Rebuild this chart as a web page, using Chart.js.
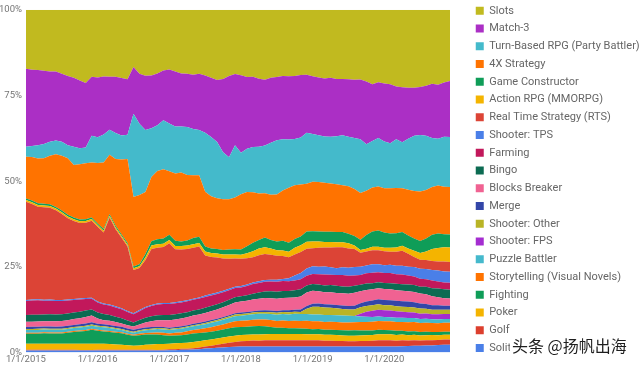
<!DOCTYPE html>
<html>
<head>
<meta charset="utf-8">
<script src="https://cdn.jsdelivr.net/npm/chart.js@4.4.1/dist/chart.umd.min.js"></script>
<style>
  body { margin: 0; background: #fff; }
  #wrap { position: relative; width: 640px; height: 366px; }
  #mark { position: absolute; left: 510px; top: 336px; font: 16px "Noto Sans CJK SC", sans-serif; color: #1e1e1e;
          background: #fff; padding: 0 2px; line-height: 19px; text-shadow: 0 0 2px #fff; }
</style>
</head>
<body>
<div id="wrap">
  <canvas id="genreChart"></canvas>
  <div id="mark">头条 @扬帆出海</div>
</div>
<script>
// monthly share (%) per genre, Jan 2015 .. Dec 2020
var years = [2015, 2016, 2017, 2018, 2019, 2020];
var yTicks = [0, 25, 50, 75, 100];

var slots = [17.3,17.5,17.5,17.8,18.1,18.1,18.7,19.3,19.9,20.8,21.6,19.9,
  19.9,19.6,19.6,19.6,19.9,20.2,16.7,18.7,19.3,19.3,18.7,17.8,
  17.5,18.1,18.7,18.7,19.0,18.7,19.3,19.9,20.5,20.2,19.3,18.7,
  19.0,19.6,19.6,20.2,20.5,19.9,19.6,19.3,19.3,19.3,19.0,19.0,
  19.6,19.9,20.2,19.9,20.2,20.2,20.2,20.5,20.5,21.1,21.9,21.3,
  21.6,21.9,22.5,22.8,22.8,22.8,22.5,22.2,21.6,21.9,21.3,20.8];
var match3 = [22.8,22.2,21.9,21.3,20.5,20.2,19.9,20.2,20.2,19.9,19.0,17.5,
  17.5,17.0,15.5,16.4,16.7,16.1,13.7,14.6,15.8,15.5,15.2,14.6,
  15.8,16.1,15.5,15.5,15.8,16.4,16.7,17.3,18.1,21.3,23.7,20.8,
  22.5,20.8,20.5,19.9,19.3,19.0,18.4,18.4,18.4,18.4,18.1,17.0,
  17.0,17.0,17.0,17.3,16.7,16.4,16.7,17.0,17.5,18.4,16.7,16.4,
  17.0,17.3,15.5,16.1,14.9,14.0,14.0,14.6,15.8,15.8,15.8,16.4];
var turnBased = [2.9,3.2,3.8,4.1,4.1,4.1,4.1,3.8,5.3,4.7,4.7,7.9,
  7.6,8.2,7.3,7.6,7.0,7.0,24.3,20.8,18.1,14.3,13.5,14.3,
  14.0,13.7,13.5,14.0,13.5,13.2,17.3,17.3,16.4,13.7,12.3,15.2,
  12.0,12.6,13.2,13.7,14.0,15.2,15.8,14.9,14.0,13.5,13.7,14.9,
  14.0,13.7,13.5,13.7,14.0,14.6,14.3,14.9,15.8,13.7,13.7,14.3,
  13.7,13.2,14.3,13.5,14.9,16.1,16.4,15.8,14.3,13.7,14.6,14.6];
var fourX = [12.2,12.7,13.0,13.3,14.2,15.4,16.0,16.5,15.4,16.3,16.5,16.3,
  17.7,19.5,17.4,19.5,21.8,24.4,20.3,20.2,18.1,18.8,20.0,20.3,
  18.6,19.7,20.2,19.1,18.3,18.0,16.0,15.3,14.8,14.8,14.6,15.1,
  16.0,15.8,14.7,13.6,13.0,13.2,13.7,14.6,16.0,15.7,15.1,14.0,
  14.6,14.5,14.4,14.1,13.9,13.6,13.8,13.7,13.7,13.0,12.9,12.9,
  12.9,13.3,13.3,12.9,13.4,13.9,14.4,14.2,13.9,14.0,13.9,13.9];
var gameConstructor = [0.5,0.5,0.5,0.5,0.5,0.5,0.5,0.5,0.5,0.5,0.5,0.5,
  0.5,0.5,0.5,0.5,0.5,0.5,0.5,0.6,1.0,1.3,1.5,1.5,
  1.5,1.5,1.3,1.5,1.8,1.8,1.5,1.3,1.3,1.3,1.5,1.5,
  1.5,2.0,2.5,2.5,2.8,2.5,2.5,2.8,2.6,2.5,2.5,3.0,
  3.0,3.0,3.0,3.0,3.0,3.0,2.8,2.8,3.0,4.0,4.5,4.8,
  4.5,4.2,4.2,4.0,3.8,3.6,3.5,3.8,4.2,4.2,3.8,3.8];
var actionRpg = [0.5,0.5,0.5,0.5,0.5,0.5,0.5,0.5,0.5,0.5,0.5,0.5,
  0.5,0.5,0.5,0.5,0.5,0.5,0.5,0.5,0.8,1.0,1.0,1.0,
  1.0,1.0,1.0,1.0,1.0,1.0,1.2,1.2,1.2,1.2,1.2,1.2,
  1.2,1.5,1.8,2.0,2.0,1.8,1.6,1.6,1.6,2.0,2.0,2.0,
  2.0,1.8,1.6,1.6,1.5,1.5,1.5,1.0,0.8,0.8,1.0,1.0,
  1.0,1.2,1.2,1.5,1.5,1.8,2.0,2.5,3.5,4.0,4.2,4.2];
var rts = [28.7,27.8,26.9,26.9,26.9,26.3,25.1,23.7,22.8,22.2,22.2,22.8,
  21.9,20.8,25.4,22.5,20.5,18.7,12.6,12.3,13.7,16.4,16.4,16.4,
  17.5,15.5,15.2,14.9,14.9,14.9,11.7,10.8,10.2,9.4,8.8,8.2,
  7.9,7.6,7.3,7.6,7.6,7.3,7.0,6.7,6.1,6.1,6.1,5.8,
  5.3,5.6,5.6,5.8,6.1,5.8,5.6,5.3,4.1,4.1,4.1,4.1,
  4.1,3.8,4.1,4.4,3.8,2.9,2.6,2.6,2.6,2.6,2.9,2.9];
var shooterTps = [0.3,0.3,0.3,0.3,0.3,0.3,0.3,0.3,0.3,0.3,0.3,0.3,
  0.3,0.3,0.3,0.3,0.3,0.3,0.3,0.3,0.3,0.3,0.3,0.3,
  0.3,0.3,0.3,0.3,0.3,0.3,0.4,0.4,0.4,0.4,0.4,0.4,
  0.4,0.4,0.5,0.5,0.5,0.5,0.6,0.6,0.9,1.5,1.8,2.1,
  2.3,2.2,2.3,2.2,2.0,2.3,2.3,2.5,2.4,2.3,2.5,2.4,
  2.3,2.4,2.5,2.6,2.6,2.8,2.9,3.0,3.1,3.2,3.2,3.2];
var farming = [4.1,4.2,4.2,4.0,4.0,3.9,3.9,3.8,3.7,3.6,3.4,3.2,
  2.9,2.8,2.8,2.7,2.6,2.5,2.4,2.6,2.8,3.0,3.1,3.2,
  3.2,3.2,3.2,3.2,3.1,3.2,3.2,3.1,3.0,2.9,2.8,2.7,
  2.6,2.7,2.8,2.8,2.9,2.9,2.9,2.9,2.8,2.8,2.9,2.9,
  2.9,3.0,3.2,3.0,3.1,3.3,3.2,3.0,2.9,3.0,3.1,2.9,
  2.9,3.0,2.8,2.8,2.6,2.5,2.3,2.2,2.2,2.1,2.0,2.0];
var bingo = [2.0,2.0,2.0,2.0,2.0,2.0,2.0,2.0,1.9,1.9,1.9,1.8,
  1.8,1.8,1.7,1.6,1.5,1.4,1.2,1.3,1.4,1.5,1.5,1.5,
  1.5,1.5,1.5,1.5,1.5,1.5,1.5,1.5,1.5,1.5,1.5,1.5,
  1.5,1.6,1.7,1.8,1.9,2.0,2.0,2.0,2.0,2.1,2.1,2.0,
  2.0,2.0,2.0,2.1,2.1,2.0,2.0,2.0,1.9,1.9,1.8,1.8,
  1.8,1.8,1.9,1.9,2.0,2.0,2.0,2.2,2.4,2.5,2.6,2.6];
var blocksBreaker = [1.5,1.5,1.5,1.5,1.6,1.6,1.6,1.6,1.7,1.8,1.9,2.0,
  1.5,1.2,1.2,1.1,1.0,0.9,0.9,1.2,1.5,1.7,1.9,2.0,
  2.2,2.2,2.3,2.3,2.4,2.4,2.5,2.6,2.7,2.8,3.0,3.1,
  3.2,3.3,3.4,3.5,3.6,3.6,3.6,3.6,3.6,3.6,3.8,4.0,
  3.8,3.6,3.5,3.6,3.5,3.6,3.6,3.8,3.5,3.4,3.3,3.2,
  3.2,3.2,3.1,3.1,3.0,3.0,2.9,2.8,2.6,2.4,2.2,2.1];
var merge = [0.6,0.6,0.6,0.6,0.6,0.6,0.6,0.6,0.6,0.6,0.7,0.7,
  0.6,0.6,0.6,0.6,0.6,0.6,0.6,0.5,0.5,0.5,0.4,0.4,
  0.4,0.4,0.4,0.4,0.4,0.4,0.4,0.4,0.4,0.4,0.4,0.4,
  0.4,0.4,0.4,0.4,0.5,0.5,0.5,0.5,0.6,0.6,0.7,0.8,
  0.9,0.9,1.0,1.0,1.0,1.0,1.0,1.1,1.2,1.3,1.4,1.5,
  1.5,1.5,1.6,1.6,1.6,1.5,1.5,1.4,1.3,1.3,1.2,1.2];
var shooterOther = [0.3,0.3,0.3,0.3,0.3,0.3,0.3,0.3,0.3,0.3,0.3,0.3,
  0.3,0.3,0.3,0.3,0.3,0.3,0.3,0.3,0.3,0.3,0.3,0.3,
  0.3,0.3,0.3,0.3,0.3,0.3,0.4,0.4,0.4,0.4,0.4,0.5,
  0.5,0.5,0.5,0.5,0.5,0.5,0.6,0.6,0.6,0.6,0.6,1.5,
  2.3,2.3,2.2,2.1,2.0,1.9,1.8,1.9,1.9,1.7,1.6,1.6,
  1.5,1.5,1.5,1.5,1.5,1.5,1.5,1.4,1.3,1.3,1.2,1.2];
var shooterFps = [0,0,0,0,0,0,0,0,0,0,0,0,
  0,0,0,0,0,0,0,0,0,0,0,0,
  0,0,0,0,0,0,0,0,0,0,0,0,
  0,0,0,0,0,0,0,0,0,0,0,0,
  0,0,0,0,0,0,0,0,0.8,1.5,1.8,2.0,
  2.0,2.0,1.9,1.8,1.7,1.6,1.5,1.5,1.5,1.5,1.5,1.5];
var puzzleBattler = [0.8,0.8,0.8,0.8,0.8,0.8,0.8,0.8,0.9,0.9,0.9,0.9,
  0.9,0.9,0.9,0.8,0.7,0.6,0.6,0.7,0.8,0.9,1.0,1.0,
  1.0,1.0,1.1,1.1,1.1,1.2,1.2,1.3,1.3,1.4,1.4,1.5,
  1.5,1.6,1.6,1.7,1.7,1.8,1.8,1.9,1.9,2.0,2.0,2.0,
  2.0,2.0,2.0,2.0,2.0,2.0,2.0,1.8,1.6,1.5,1.4,1.3,
  1.2,1.2,1.2,1.2,1.2,1.2,1.2,1.2,1.1,1.1,1.1,1.1];
var storytelling = [0.3,0.3,0.3,0.3,0.3,0.3,0.3,0.3,0.3,0.3,0.3,0.3,
  0.3,0.3,0.3,0.3,0.3,0.3,0.3,0.4,0.4,0.5,0.6,0.7,
  0.7,0.8,0.8,0.9,1.0,1.1,1.2,1.3,1.4,1.5,1.6,1.7,
  1.8,1.8,1.9,1.9,2.0,2.0,2.0,2.1,2.1,2.2,2.2,2.3,
  2.3,2.3,2.3,2.3,2.3,2.3,2.3,2.4,2.5,2.5,2.6,2.6,
  2.6,2.6,2.6,2.6,2.7,2.7,2.6,2.6,2.6,2.6,2.6,2.6];
var fighting = [2.9,2.9,2.9,3.0,3.0,3.0,3.0,3.2,3.4,3.6,3.8,4.2,
  3.8,3.6,3.5,3.4,3.3,3.1,2.9,3.0,3.0,2.9,2.8,2.6,
  2.3,2.3,2.3,2.4,2.5,2.4,2.3,2.3,2.3,2.3,2.4,2.5,
  2.3,2.3,2.4,2.5,2.3,2.1,1.8,1.8,1.7,1.7,1.6,1.6,
  1.5,1.5,1.5,1.5,1.5,1.5,1.5,1.6,1.5,1.4,1.3,1.3,
  1.2,1.2,1.2,1.1,1.1,1.0,1.0,1.0,0.9,0.9,0.9,0.9];
var poker = [1.8,1.8,1.8,1.8,1.8,1.8,1.8,1.8,1.8,1.8,1.8,1.8,
  1.8,1.8,1.7,1.6,1.5,1.3,1.2,1.3,1.5,1.6,1.7,1.7,
  1.6,1.7,1.7,1.8,1.8,1.8,1.8,1.8,1.8,1.8,1.8,1.8,
  1.8,1.8,1.8,1.8,1.8,1.8,1.8,1.8,1.8,1.8,1.8,1.8,
  1.8,1.8,1.7,1.7,1.7,1.6,1.6,1.6,1.6,1.7,1.7,1.8,
  1.8,1.8,1.7,1.7,1.6,1.6,1.5,1.5,1.5,1.4,1.4,1.4];
var golf = [0.2,0.2,0.2,0.2,0.2,0.2,0.2,0.2,0.2,0.2,0.2,0.2,
  0.2,0.2,0.2,0.2,0.2,0.2,0.2,0.2,0.2,0.2,0.2,0.2,
  0.3,0.3,0.3,0.3,0.4,0.5,0.6,0.7,0.9,1.1,1.3,1.4,
  1.5,1.6,1.7,1.7,1.8,1.8,1.8,1.8,1.8,1.8,1.8,1.8,
  1.8,1.8,1.7,1.7,1.6,1.6,1.5,1.5,1.6,1.6,1.7,1.8,
  1.8,1.8,1.7,1.7,1.6,1.6,1.5,1.5,1.5,1.5,1.5,1.5];
var solitaire = [0.6,0.6,0.6,0.6,0.6,0.6,0.6,0.6,0.6,0.6,0.6,0.6,
  0.6,0.6,0.6,0.6,0.6,0.6,0.6,0.6,0.6,0.6,0.6,0.6,
  0.7,0.7,0.8,0.8,0.9,1.0,1.2,1.3,1.4,1.5,1.6,1.7,
  1.8,1.8,1.8,1.8,1.8,1.8,1.8,1.8,1.8,1.8,1.8,1.8,
  1.8,1.8,1.8,1.8,1.8,1.8,1.8,1.8,1.8,1.8,1.8,1.8,
  1.8,1.8,1.8,1.9,1.9,2.0,2.0,2.1,2.1,2.2,2.3,2.3];

// bottom of the stack first
var series = [
  ['Solitaire', solitaire, '#4a7fe8'],
  ['Golf', golf, '#dc3f2e'],
  ['Poker', poker, '#f4b400'],
  ['Fighting', fighting, '#0f9d58'],
  ['Storytelling (Visual Novels)', storytelling, '#ff7300'],
  ['Puzzle Battler', puzzleBattler, '#45b9cc'],
  ['Shooter: FPS', shooterFps, '#a42dd0'],
  ['Shooter: Other', shooterOther, '#b9b426'],
  ['Merge', merge, '#3346a8'],
  ['Blocks Breaker', blocksBreaker, '#f06292'],
  ['Bingo', bingo, '#0c6b52'],
  ['Farming', farming, '#c2185b'],
  ['Shooter: TPS', shooterTps, '#4a7fe8'],
  ['Real Time Strategy (RTS)', rts, '#dc4436'],
  ['Action RPG (MMORPG)', actionRpg, '#f4b400'],
  ['Game Constructor', gameConstructor, '#0f9d58'],
  ['4X Strategy', fourX, '#ff7300'],
  ['Turn-Based RPG (Party Battler)', turnBased, '#44bacb'],
  ['Match-3', match3, '#ab2fc5'],
  ['Slots', slots, '#c1ba1f']
];

var labels = [];
years.forEach(function(y) {
  for (var m = 1; m <= 12; m++) labels.push(m + '/1/' + y);
});

// scale every month to 100%
var totals = labels.map(function(_, i) {
  return series.reduce(function(s, d) { return s + d[1][i]; }, 0);
});

var datasets = series.map(function(d, k) {
  return {
    label: d[0],
    data: d[1].map(function(v, i) { return v / totals[i] * 100; }),
    backgroundColor: d[2],
    borderColor: 'rgba(0,0,0,0)',
    borderWidth: 0,
    pointRadius: 0,
    fill: k === 0 ? 'origin' : '-1',
    tension: 0
  };
});

Chart.defaults.font.family = 'Roboto';

var legendTweak = {
  id: 'legendTweak',
  beforeLayout: function(chart) {
    var lg = chart.legend;
    if (lg && !lg._tweaked) {
      var fit = lg.fit.bind(lg);
      lg.fit = function() { fit(); this.width = 171; };
      lg._tweaked = true;
    }
  },
  afterLayout: function(chart) {
    chart.legend.top = -1.5;
  }
};

var ctx = document.getElementById('genreChart').getContext('2d');
var genreChart = new Chart(ctx, {
  type: 'line',
  data: { labels: labels, datasets: datasets },
  plugins: [legendTweak],
  options: {
    responsive: true,
    maintainAspectRatio: false,
    animation: false,
    events: [],
    layout: { padding: { top: 3, bottom: 0, left: 0, right: 0 } },
    plugins: {
      tooltip: { enabled: false },
      legend: {
        position: 'right',
        align: 'start',
        reverse: true,
        labels: { boxWidth: 8, boxHeight: 8, padding: 6.75, color: '#666', font: { size: 11 } }
      }
    },
    scales: {
      x: {
        offset: false,
        grid: { display: false, drawTicks: false },
        border: { display: false },
        ticks: {
          autoSkip: false, maxRotation: 0, minRotation: 0, padding: 1,
          color: '#757575', font: { size: 9.5 },
          callback: function(v) {
            var lab = this.getLabelForValue(v);
            return lab.indexOf('1/1/') === 0 ? lab : '';
          }
        }
      },
      y: {
        stacked: true,
        min: 0, max: 100,
        afterBuildTicks: function(s) { s.ticks = yTicks.map(function(v) { return { value: v }; }); },
        afterFit: function(s) { s.width = 26; },
        grid: { display: false, drawTicks: false },
        border: { display: false },
        ticks: { padding: 4, color: '#757575', font: { size: 9.5 }, callback: function(v) { return v + '%'; } }
      },
      yRight: {
        position: 'right',
        display: true,
        grid: { display: false, drawTicks: false },
        border: { display: false },
        ticks: { display: false },
        afterFit: function(s) { s.width = 19; }
      }
    }
  }
});
</script>
</body>
</html>
